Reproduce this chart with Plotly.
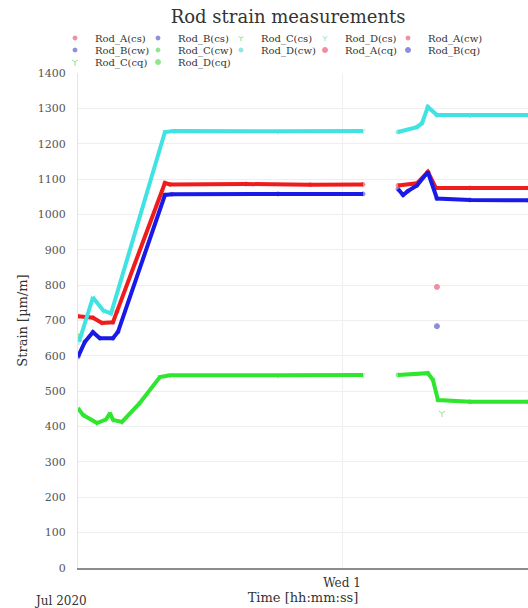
import plotly.graph_objects as go

# ---- data -------------------------------------------------------------
# first acquisition block (before the interruption)
rod_a_cs_t = ["2020-06-30 07:30", "2020-06-30 08:26", "2020-06-30 09:00", "2020-06-30 09:41",
              "2020-06-30 09:56", "2020-06-30 12:56", "2020-06-30 13:15", "2020-06-30 18:00",
              "2020-06-30 22:00", "2020-07-01 01:19"]
rod_a_cs_v = [712, 708, 693, 695, 725, 1089, 1085, 1086, 1084, 1085]

rod_b_cs_t = ["2020-06-30 07:30", "2020-06-30 07:56", "2020-06-30 08:26", "2020-06-30 08:52",
              "2020-06-30 09:41", "2020-06-30 10:00", "2020-06-30 12:56", "2020-06-30 13:22",
              "2020-06-30 20:00", "2020-07-01 01:19"]
rod_b_cs_v = [597, 640, 667, 650, 650, 668, 1055, 1057, 1058, 1058]

rod_c_cs_t = ["2020-06-30 07:30", "2020-06-30 07:49", "2020-06-30 08:41", "2020-06-30 09:15",
              "2020-06-30 09:30", "2020-06-30 09:41", "2020-06-30 10:15", "2020-06-30 11:22",
              "2020-06-30 12:37", "2020-06-30 13:15", "2020-06-30 20:00", "2020-07-01 01:19"]
rod_c_cs_v = [452, 433, 410, 420, 438, 419, 413, 467, 540, 545, 545, 546]

rod_d_cs_t = ["2020-06-30 07:34", "2020-06-30 08:26", "2020-06-30 09:05", "2020-06-30 09:34",
              "2020-06-30 12:56", "2020-06-30 13:30", "2020-06-30 20:00", "2020-07-01 01:19"]
rod_d_cs_v = [640, 765, 728, 720, 1233, 1236, 1235, 1236]

# second acquisition block (after the interruption)
rod_a_cw_t = ["2020-07-01 03:30", "2020-07-01 04:41", "2020-07-01 05:22", "2020-07-01 05:52",
              "2020-07-01 08:00", "2020-07-01 11:40"]
rod_a_cw_v = [1082, 1088, 1120, 1075, 1075, 1075]

rod_b_cw_t = ["2020-07-01 03:30", "2020-07-01 03:49", "2020-07-01 04:07", "2020-07-01 04:41",
              "2020-07-01 05:22", "2020-07-01 05:56", "2020-07-01 08:00", "2020-07-01 11:40"]
rod_b_cw_v = [1072, 1055, 1066, 1082, 1120, 1045, 1041, 1040]

rod_c_cw_t = ["2020-07-01 03:30", "2020-07-01 05:22", "2020-07-01 05:41", "2020-07-01 06:00",
              "2020-07-01 08:00", "2020-07-01 11:40"]
rod_c_cw_v = [546, 551, 532, 475, 470, 470]

rod_d_cw_t = ["2020-07-01 03:30", "2020-07-01 04:41", "2020-07-01 05:00", "2020-07-01 05:22",
              "2020-07-01 05:56", "2020-07-01 08:00", "2020-07-01 11:40"]
rod_d_cw_v = [1233, 1247, 1258, 1304, 1281, 1280, 1281]

# sparse quality-check readings
rod_a_cq_t = ["2020-07-01 05:56"]
rod_a_cq_v = [795]
rod_b_cq_t = ["2020-07-01 05:56"]
rod_b_cq_v = [684]
rod_c_cq_t = ["2020-07-01 06:15"]
rod_c_cq_v = [438]
rod_d_cq_t = ["2020-06-30 07:34"]
rod_d_cq_v = [655]

y_ticks = list(range(0, 1500, 100))
x_tick = "2020-07-01 00:00"
x_tick_label = "Wed 1"

# ---- styling ----------------------------------------------------------
SERIF = "DejaVu Serif"
col = {"A": "#f01c1c", "B": "#1a1ae6", "C": "#2ee62e", "D": "#3fe3e3"}
pale = {"A": "#ee8fa0", "B": "#8d8ddf", "C": "#8fe68f", "D": "#8fe6e0"}

# (name, rod, times, values, legend symbol)
line_series = [
    ("Rod_A(cs)", "A", rod_a_cs_t, rod_a_cs_v, "circle"),
    ("Rod_B(cs)", "B", rod_b_cs_t, rod_b_cs_v, "circle"),
    ("Rod_C(cs)", "C", rod_c_cs_t, rod_c_cs_v, "y-down"),
    ("Rod_D(cs)", "D", rod_d_cs_t, rod_d_cs_v, "y-down"),
    ("Rod_A(cw)", "A", rod_a_cw_t, rod_a_cw_v, "circle"),
    ("Rod_B(cw)", "B", rod_b_cw_t, rod_b_cw_v, "circle"),
    ("Rod_C(cw)", "C", rod_c_cw_t, rod_c_cw_v, "circle"),
    ("Rod_D(cw)", "D", rod_d_cw_t, rod_d_cw_v, "circle"),
]
point_series = [
    ("Rod_A(cq)", "A", rod_a_cq_t, rod_a_cq_v, "circle"),
    ("Rod_B(cq)", "B", rod_b_cq_t, rod_b_cq_v, "circle"),
    ("Rod_C(cq)", "C", rod_c_cq_t, rod_c_cq_v, "y-down"),
    ("Rod_D(cq)", "C", rod_d_cq_t, rod_d_cq_v, "circle"),
]

# one single-entry legend per series, laid out as a 5-column grid above the plot
PLOT_L, PLOT_W, PLOT_T, PLOT_H = 78, 450, 73, 495
COL_PX = [55, 138, 221, 305, 388]
ROW_PX = [38, 50, 62]
legend_ids = ["legend"] + [f"legend{i}" for i in range(2, 13)]

fig = go.Figure()

# marker traces carry the legend entries; for the continuous series they sit
# underneath the thick lines drawn afterwards
for k, (name, rod, t, v, sym) in enumerate(line_series + point_series):
    size = 4 if k < len(line_series) else 5
    fig.add_trace(go.Scatter(
        x=t, y=v, name=name, legendgroup=name, legend=legend_ids[k], mode="markers",
        marker=dict(size=size, color=pale[rod], symbol=sym,
                    line=dict(width=1, color=pale[rod])),
    ))

for name, rod, t, v, sym in line_series:
    fig.add_trace(go.Scatter(
        x=t, y=v, name=name, legendgroup=name, mode="lines", showlegend=False,
        line=dict(color=col[rod], width=4),
    ))

legends = {}
for k, lid in enumerate(legend_ids):
    xpx = COL_PX[k % 5]
    ypx = ROW_PX[k // 5]
    legends[lid] = dict(
        orientation="h", xanchor="left", yanchor="middle",
        x=(xpx - PLOT_L) / PLOT_W, y=(PLOT_T + PLOT_H - ypx) / PLOT_H,
        font=dict(family=SERIF, size=10, color="#333"),
        itemwidth=30, bgcolor="rgba(0,0,0,0)",
    )

fig.update_layout(
    width=528, height=608,
    margin=dict(l=PLOT_L, r=0, t=PLOT_T, b=608 - PLOT_T - PLOT_H),
    paper_bgcolor="white", plot_bgcolor="white",
    font=dict(family=SERIF, size=11, color="#444"),
    title=dict(text="Rod strain measurements", xref="paper", x=0.467, xanchor="center",
               y=0.972, yanchor="middle",
               font=dict(family=SERIF, size=18, color="#333")),
    showlegend=True,
    annotations=[dict(text="Jul 2020", xref="paper", yref="paper", x=-0.038, y=0,
                      xanchor="center", yanchor="top", yshift=-24, showarrow=False,
                      font=dict(family=SERIF, size=12, color="#333"))],
    **legends,
)

fig.update_xaxes(
    type="date", range=["2020-06-30 07:30", "2020-07-01 11:37:30"],
    tickvals=[x_tick], ticktext=[x_tick_label],
    showgrid=True, gridcolor="#eeeeee", gridwidth=1,
    showline=True, linecolor="#8c8c8c", linewidth=2,
    ticks="", ticklabelstandoff=3, tickfont=dict(family=SERIF, size=12, color="#333"),
    title=dict(text="Time [hh:mm:ss]", standoff=3,
               font=dict(family=SERIF, size=13, color="#333")),
)
fig.update_yaxes(
    range=[0, 1400], tickvals=y_ticks,
    showgrid=True, gridcolor="#eeeeee", gridwidth=1,
    zeroline=False, showline=True, linecolor="#e4e4e4", linewidth=1,
    ticks="", ticklabelstandoff=9, tickfont=dict(family=SERIF, size=11, color="#555"),
    title=dict(text="Strain [µm/m]", standoff=7,
               font=dict(family=SERIF, size=13, color="#333")),
)

fig.write_html("out.html")
